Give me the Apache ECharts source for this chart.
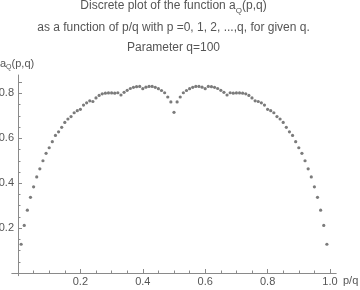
<!DOCTYPE html>
<html>
<head>
<meta charset="utf-8">
<script src="https://cdn.jsdelivr.net/npm/echarts@6/dist/echarts.min.js"></script>
<style>
html,body{margin:0;padding:0;background:#fff;}
#c{width:360px;height:290px;}
</style>
</head>
<body>
<div id="c"></div>
<script>
// Parameter q and the plotted p values (p = 1 .. q-1)
const q = 100;
const pValues = Array.from({length: 99}, (_, i) => i + 1);
// a_Q(p,q) values, for p = 1 .. 99
const aValues = [
  0.128,0.212,0.280,0.337,0.384,0.428,0.464,0.500,0.533,0.558,
  0.585,0.613,0.629,0.649,0.671,0.686,0.697,0.714,0.723,0.729,
  0.748,0.758,0.767,0.764,0.780,0.791,0.798,0.801,0.802,0.802,
  0.801,0.803,0.793,0.805,0.814,0.822,0.827,0.830,0.831,0.821,
  0.828,0.831,0.831,0.827,0.821,0.813,0.803,0.784,0.762,0.716,
  0.762,0.784,0.803,0.813,0.821,0.827,0.831,0.831,0.828,0.821,
  0.831,0.830,0.827,0.822,0.814,0.805,0.793,0.803,0.801,0.802,
  0.802,0.801,0.798,0.791,0.780,0.767,0.764,0.758,0.748,0.729,
  0.723,0.714,0.697,0.686,0.671,0.649,0.629,0.613,0.585,0.558,
  0.533,0.500,0.464,0.428,0.384,0.337,0.280,0.212,0.128
];
const xTicks = [0.2, 0.4, 0.6, 0.8, 1.0];
const yTicks = [0.2, 0.4, 0.6, 0.8];

const points = pValues.map((p, i) => [p / q, aValues[i]]);

const font = 'Liberation Sans, Arial, sans-serif';
const axisCol = '#8a8a8a';
const textCol = '#555555';

const chart = echarts.init(document.getElementById('c'), null, {renderer: 'canvas'});
chart.setOption({
  animation: false,
  backgroundColor: '#ffffff',
  grid: [
    {left: 11.8, width: 324.4, top: 75, height: 200.7, outerBoundsMode: 'none', containLabel: false},
    {left: 18, width: 312, top: 82.2, height: 190.8, outerBoundsMode: 'none', containLabel: false}
  ],
  xAxis: [
    {type: 'value', gridIndex: 0, position: 'bottom', min: -0.02, max: 1.02,
     axisLine: {show: true, onZero: true, lineStyle: {color: axisCol, width: 1}},
     axisTick: {show: false}, axisLabel: {show: false}, splitLine: {show: false}},
    {type: 'value', gridIndex: 1, position: 'bottom', min: 0, max: 1, interval: 0.2,
     axisLine: {show: false},
     axisTick: {show: true, inside: true, length: 4, lineStyle: {color: axisCol}},
     minorTick: {show: true, splitNumber: 4, length: 2.5, lineStyle: {color: axisCol}},
     axisLabel: {show: true, margin: 3, color: textCol, fontSize: 11, fontFamily: font,
       formatter: v => (xTicks.some(t => Math.abs(t - v) < 1e-9) ? v.toFixed(1) : '')},
     splitLine: {show: false}}
  ],
  yAxis: [
    {type: 'value', gridIndex: 0, position: 'left', offset: 0, min: -0.012, max: 0.882,
     axisLine: {show: true, onZero: true, lineStyle: {color: axisCol, width: 1}},
     axisTick: {show: false}, axisLabel: {show: false}, splitLine: {show: false}},
    {type: 'value', gridIndex: 1, position: 'left', offset: 0, min: 0, max: 0.85, interval: 0.05,
     axisLine: {show: false, onZero: false},
     axisTick: {show: true, inside: true, length: 2.5, lineStyle: {color: axisCol}},
     axisLabel: {show: false}, splitLine: {show: false}},
    {type: 'value', gridIndex: 1, position: 'left', offset: 0, min: 0, max: 0.85, interval: 0.2,
     axisLine: {show: false, onZero: false},
     axisTick: {show: true, inside: true, length: 4, lineStyle: {color: axisCol}},
     axisLabel: {show: true, margin: 4, color: textCol, fontSize: 11, fontFamily: font,
       formatter: v => (yTicks.some(t => Math.abs(t - v) < 1e-9) ? v.toFixed(1) : '')},
     splitLine: {show: false}}
  ],
  series: [{
    type: 'scatter',
    xAxisIndex: 1, yAxisIndex: 1,
    data: points,
    symbol: 'circle',
    symbolSize: 3.2,
    itemStyle: {color: '#5a5a5a'}
  }],
  graphic: [
    {type: 'text', x: 173.5, y: 0, silent: true,
     style: {
       text: '{t|Discrete plot of the function a}{s|Q}{t|(p,q)}',
       align: 'center', verticalAlign: 'top',
       rich: {
         t: {fontSize: 12, fontFamily: font, fill: textCol, lineHeight: 15, verticalAlign: 'top'},
         s: {fontSize: 8, fontFamily: font, fill: textCol, lineHeight: 8, verticalAlign: 'bottom'}
       }
     }},
    {type: 'text', x: 173.5, y: 21.5, silent: true,
     style: {text: 'as a function of p/q with p =0, 1, 2, ...,q, for given q.', align: 'center', verticalAlign: 'top',
       fontSize: 12, fontFamily: font, fill: textCol}},
    {type: 'text', x: 173.5, y: 41.5, silent: true,
     style: {text: 'Parameter q=100', align: 'center', verticalAlign: 'top',
       fontSize: 12, fontFamily: font, fill: textCol}},
    {type: 'text', x: 0, y: 58, silent: true,
     style: {
       text: '{t|a}{s|Q}{t|(p,q)}', align: 'left', verticalAlign: 'top',
       rich: {
         t: {fontSize: 11, fontFamily: font, fill: textCol, lineHeight: 13, verticalAlign: 'top'},
         s: {fontSize: 7, fontFamily: font, fill: textCol, lineHeight: 7, verticalAlign: 'bottom'}
       }
     }},
    {type: 'text', x: 343, y: 275, silent: true,
     style: {text: 'p/q', align: 'left', verticalAlign: 'top', fontSize: 11, fontFamily: font, fill: textCol}}
  ]
});
</script>
</body>
</html>
